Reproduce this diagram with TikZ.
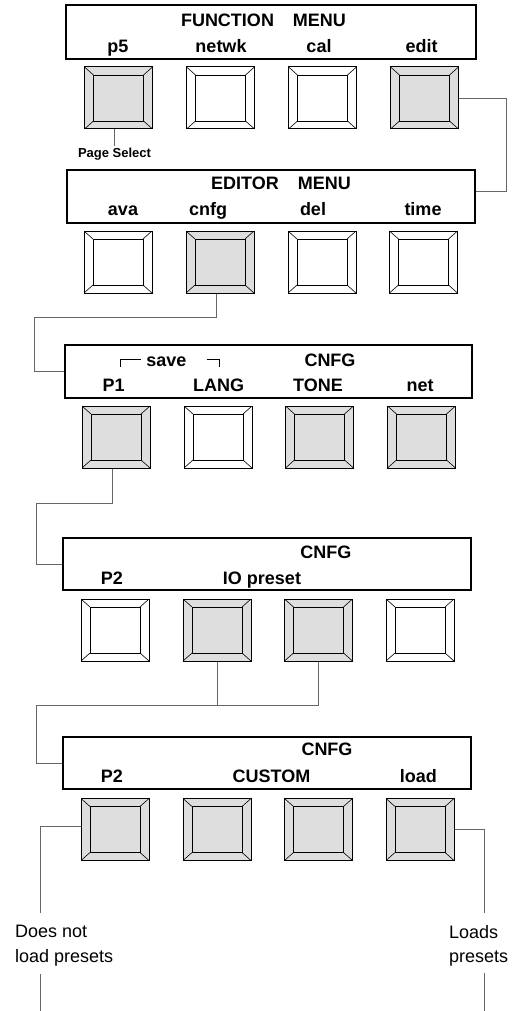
\documentclass[tikz,border=0pt]{standalone}
\usepackage{fontspec}
\setmainfont{Liberation Sans}
\usetikzlibrary{ positioning, % For easy node-relative placements
                 calc,        % For shifted connector ends
               }
\definecolor{keygray}{gray}{0.87}
\definecolor{linkgray}{gray}{0.40}
\tikzstyle{menu} = [rectangle, draw=black, line width=1.2pt, minimum width=408pt, minimum height=53pt, inner sep=0pt]
\tikzstyle{key} = [rectangle, draw=black, fill=white, line width=1pt, minimum width=68pt, minimum height=62pt, inner sep=0pt,
  path picture={
    \draw[line width=0.9pt] ([xshift=9pt,yshift=-8pt]path picture bounding box.north west)
      rectangle ([xshift=-9pt,yshift=8pt]path picture bounding box.south east);
    \draw[line width=0.6pt] (path picture bounding box.north west) -- ++(9pt,-8pt);
    \draw[line width=0.6pt] (path picture bounding box.north east) -- ++(-9pt,-8pt);
    \draw[line width=0.6pt] (path picture bounding box.south west) -- ++(9pt,8pt);
    \draw[line width=0.6pt] (path picture bounding box.south east) -- ++(-9pt,8pt);
  }]
\tikzstyle{keyset} = [key, fill=keygray]
\tikzstyle{link} = [draw=linkgray, line width=0.9pt]
\tikzstyle{bracket} = [draw=black, line width=0.8pt]
\tikzstyle{head} = [font=\fontsize{18}{20}\selectfont\bfseries, anchor=base, inner sep=0pt]
\tikzstyle{note} = [font=\fontsize{13}{15}\selectfont\bfseries, anchor=base, inner sep=0pt]
\tikzstyle{remark} = [font=\fontsize{18}{24.7}\selectfont, align=left, anchor=north west, inner sep=0pt]

\begin{document}
\begin{tikzpicture}[x=1pt, y=-1pt]
  \useasboundingbox (0,0) rectangle (524,1011);

  % function menu
  \node (m1) [menu, minimum width=410pt, minimum height=54pt] at (271,32) {};
  \node (t1) [head] at (263.5,26.5) {FUNCTION\hspace{19pt}MENU};
  \node (l11) [head] at (118,52.3) {p5};
  \node (l12) [head] at (221,52.3) {netwk};
  \node (l13) [head] at (319,52.3) {cal};
  \node (l14) [head] at (421.7,52.3) {edit};
  \node (k11) [keyset] at (118.5,98) {};
  \node (k12) [key] at (220.5,98) {};
  \node (k13) [key] at (322.5,98) {};
  \node (k14) [keyset] at (424.5,98) {};
  \node (ps) [note] at (114.5,157.7) {Page Select};
  \draw [link] ($(ps.north)+(0,-2.5)$) -- (ps.north |- k11.south);

  % editor menu
  \node (m2) [menu] at (271,196.5) {};
  \node (t2) [head] at (281,189.3) {EDITOR\hspace{19pt}MENU};
  \node (l21) [head] at (123,215.7) {ava};
  \node (l22) [head] at (208,215.7) {cnfg};
  \node (l23) [head] at (313,215.7) {del};
  \node (l24) [head] at (423,215.7) {time};
  \node (k21) [key] at (118,262) {};
  \node (k22) [keyset] at (220,262) {};
  \node (k23) [key] at (322,262) {};
  \node (k24) [key] at (423.5,262) {};
  \coordinate (c1) at (506,191);
  \draw [link] (k14.east) -| (c1) -- (c1 -| m2.east);

  % cnfg page 1
  \node (m3) [menu, minimum width=407pt] at (268.5,371.5) {};
  \node (sv) [head] at (166.3,366) {save};
  \draw [bracket] (120,366.7) -- (120,359.3) -- (140.7,359.3);
  \draw [bracket] (206.7,359.3) -- (219.3,359.3) -- (219.3,366.7);
  \node (t3) [head] at (330,366) {CNFG};
  \node (l31) [head] at (113.7,391.7) {P1};
  \node (l32) [head] at (218.7,391.7) {LANG};
  \node (l33) [head] at (318,391.7) {TONE};
  \node (l34) [head] at (420,391.7) {net};
  \node (k31) [keyset] at (116,437) {};
  \node (k32) [key] at (218,437) {};
  \node (k33) [keyset] at (319.5,437) {};
  \node (k34) [keyset] at (421.5,437) {};
  \coordinate (c2) at (34,317);
  \draw [link] ([xshift=-4pt]k22.south) |- (c2) |- (m3.west);

  % cnfg page 2
  \node (m4) [menu, minimum height=52pt] at (267,564) {};
  \node (t4) [head] at (325.8,558) {CNFG};
  \node (l41) [head] at (112,584) {P2};
  \node (l42) [head] at (262,584) {IO preset};
  \node (k41) [key] at (115,630) {};
  \node (k42) [keyset] at (217,630) {};
  \node (k43) [keyset] at (318.5,630) {};
  \node (k44) [key] at (420,630) {};
  \coordinate (c3) at (36,503);
  \draw [link] ([xshift=-4pt]k31.south) |- (c3) |- (m4.west);

  % cnfg custom
  \node (m5) [menu, minimum height=52pt] at (267,763) {};
  \node (t5) [head] at (327,755.7) {CNFG};
  \node (l51) [head] at (112,782.7) {P2};
  \node (l52) [head] at (271.5,782.7) {CUSTOM};
  \node (l53) [head] at (418.3,782.7) {load};
  \node (k51) [keyset] at (115,829.5) {};
  \node (k52) [keyset] at (217,829.5) {};
  \node (k53) [keyset] at (318.5,829.5) {};
  \node (k54) [keyset] at (420,829.5) {};
  \coordinate (c4) at (36,705);
  \draw [link] (k43.south) |- (c4) |- (m5.west);
  \draw [link] (k42.south) -- (k42.south |- c4);

  % results
  \node (dn) [remark] at (15,925) {Does not\\load presets};
  \node (lp) [remark] at (449,925) {Loads\\presets};
  \coordinate (c5) at (40,913);
  \coordinate (c6) at (40,1011);
  \coordinate (c7) at (484,913);
  \coordinate (c8) at (484,1011);
  \draw [link] ([yshift=3.5pt]k51.west) -| (c5);
  \draw [link] ($(dn.south -| c6)+(0,8)$) -- (c6);
  \draw [link] (k54.east) -| (c7);
  \draw [link] ($(lp.south -| c8)+(0,6)$) -- (c8);
\end{tikzpicture}
\end{document}
